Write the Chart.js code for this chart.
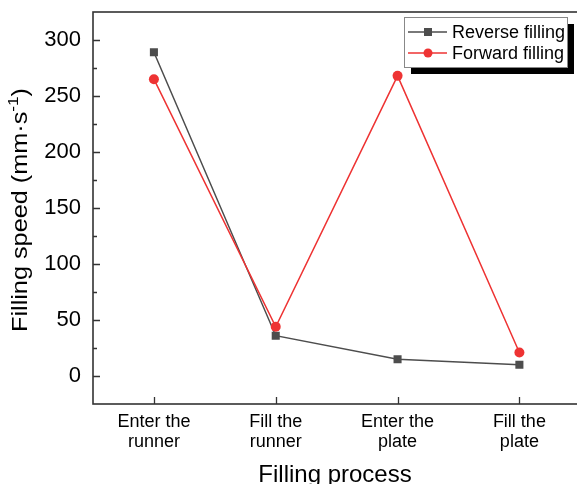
<!DOCTYPE html>
<html><head><meta charset="utf-8">
<script src="https://cdn.jsdelivr.net/npm/chart.js@4/dist/chart.umd.min.js"></script>
<style>html,body{margin:0;padding:0;overflow:hidden;background:#fff;width:577px;height:484px}
#wrap{position:absolute;left:0;top:0;width:600px;height:484px}
#c{display:block;width:586px;height:484px}</style>
</head><body>
<div id="wrap"><canvas id="c" width="586" height="484"></canvas></div>
<script>
const categories = [["Enter the","runner"],["Fill the","runner"],["Enter the","plate"],["Fill the","plate"]];
const reverseFilling = [289, 36, 15, 10];
const forwardFilling = [265, 44, 268, 21];
const yTickValues = [0, 50, 100, 150, 200, 250, 300];
const yMinorTickValues = [25, 75, 125, 175, 225, 275];
const seriesNames = ["Reverse filling", "Forward filling"];
const xTitle = "Filling process";
const yTitleMain = "Filling speed (mm·s";
const yTitleSup = "-1";
const yTitleEnd = ")";

const FONT = "'Liberation Sans', Arial, sans-serif";
const GRAY = '#4d4d4d';
const RED = '#ee3333';
const AXIS = '#333333';

const framePlugin = {
  id: 'frame',
  beforeDatasetsDraw(chart) {
    const {ctx, chartArea: a, scales} = chart;
    ctx.save();
    ctx.strokeStyle = AXIS;
    ctx.lineWidth = 1.6;
    ctx.strokeRect(a.left, a.top, a.right - a.left, a.bottom - a.top);
    ctx.lineWidth = 1.3;
    ctx.beginPath();
    yTickValues.forEach(v => {
      const y = Math.round(scales.y.getPixelForValue(v)) + 0.5;
      ctx.moveTo(a.left, y); ctx.lineTo(a.left + 7, y);
    });
    yMinorTickValues.forEach(v => {
      const y = Math.round(scales.y.getPixelForValue(v)) + 0.5;
      ctx.moveTo(a.left, y); ctx.lineTo(a.left + 4, y);
    });
    categories.forEach((c, i) => {
      const x = Math.round(scales.x.getPixelForValue(i)) + 0.5;
      ctx.moveTo(x, a.bottom); ctx.lineTo(x, a.bottom - 7);
    });
    ctx.stroke();
    ctx.restore();
  },
  afterDraw(chart) {
    const {ctx} = chart;
    ctx.save();
    // x title
    ctx.fillStyle = '#000';
    ctx.font = '24px ' + FONT;
    ctx.textAlign = 'center';
    ctx.textBaseline = 'alphabetic';
    ctx.fillText(xTitle, 335, 481.5);
    // y title with superscript
    ctx.translate(27, 210);
    ctx.rotate(-Math.PI / 2);
    ctx.textAlign = 'left';
    ctx.font = '22px ' + FONT;
    const w1 = ctx.measureText(yTitleMain).width;
    const w3 = ctx.measureText(yTitleEnd).width;
    ctx.font = '15px ' + FONT;
    const w2 = ctx.measureText(yTitleSup).width;
    const total = w1 + w2 + w3;
    const k = 244 / total;
    ctx.scale(k, 1);
    let x = -total / 2;
    ctx.font = '22px ' + FONT;
    ctx.fillText(yTitleMain, x, 0);
    x += w1;
    ctx.font = '15px ' + FONT;
    ctx.fillText(yTitleSup, x, -9);
    x += w2;
    ctx.font = '22px ' + FONT;
    ctx.fillText(yTitleEnd, x, 0);
    ctx.restore();

    // legend
    ctx.save();
    const bx = 404, by = 17, bw = 163, bh = 50;
    ctx.fillStyle = '#000';
    ctx.fillRect(bx + 7, by + 7, bw, bh);
    ctx.fillStyle = '#fff';
    ctx.fillRect(bx, by, bw, bh);
    ctx.strokeStyle = '#888';
    ctx.lineWidth = 1;
    ctx.strokeRect(bx + 0.5, by + 0.5, bw, bh);
    const rows = [
      {name: seriesNames[0], color: GRAY, style: 'rect', y: 32},
      {name: seriesNames[1], color: RED, style: 'circle', y: 53}
    ];
    rows.forEach(r => {
      ctx.strokeStyle = r.color;
      ctx.lineWidth = 1.5;
      ctx.beginPath();
      ctx.moveTo(408, r.y); ctx.lineTo(447, r.y);
      ctx.stroke();
      ctx.fillStyle = r.color;
      if (r.style === 'rect') {
        ctx.fillRect(428 - 4, r.y - 4, 8, 8);
      } else {
        ctx.beginPath(); ctx.arc(428, r.y, 4.5, 0, Math.PI * 2); ctx.fill();
      }
      ctx.fillStyle = '#000';
      ctx.font = '18px ' + FONT;
      ctx.textAlign = 'left';
      ctx.textBaseline = 'middle';
      ctx.fillText(r.name, 452, r.y + 1);
    });
    ctx.restore();
  }
};

new Chart(document.getElementById('c'), {
  type: 'line',
  data: {
    labels: categories,
    datasets: [
      {
        label: seriesNames[0], data: reverseFilling,
        borderColor: GRAY, backgroundColor: GRAY, borderWidth: 1.5,
        pointStyle: 'rect', pointRadius: 5.7, pointBorderWidth: 0,
        tension: 0, order: 1
      },
      {
        label: seriesNames[1], data: forwardFilling,
        borderColor: RED, backgroundColor: RED, borderWidth: 1.5,
        pointStyle: 'circle', pointRadius: 5, pointBorderWidth: 0,
        tension: 0, order: 0
      }
    ]
  },
  options: {
    responsive: false,
    animation: false,
    layout: {padding: {top: 12, right: 1, left: 0, bottom: 0}},
    plugins: {legend: {display: false}, tooltip: {enabled: false}},
    scales: {
      x: {
        type: 'category', offset: true,
        grid: {display: false, drawTicks: false}, border: {display: false},
        ticks: {font: {size: 18, family: FONT, lineHeight: 1.11}, color: '#000', padding: 8, maxRotation: 0, autoSkip: false},
        afterFit(s) { s.height = 80; s.paddingLeft = 0; s.paddingRight = 0; }
      },
      y: {
        min: -25, max: 325,
        grid: {display: false, drawTicks: false}, border: {display: false},
        ticks: {font: {size: 22, family: FONT}, color: '#000', padding: 12},
        afterBuildTicks(s) { s.ticks = yTickValues.map(v => ({value: v})); },
        afterFit(s) { s.width = 93; s.paddingTop = 0; s.paddingBottom = 0; }
      }
    }
  },
  plugins: [framePlugin]
});
</script>
</body></html>
